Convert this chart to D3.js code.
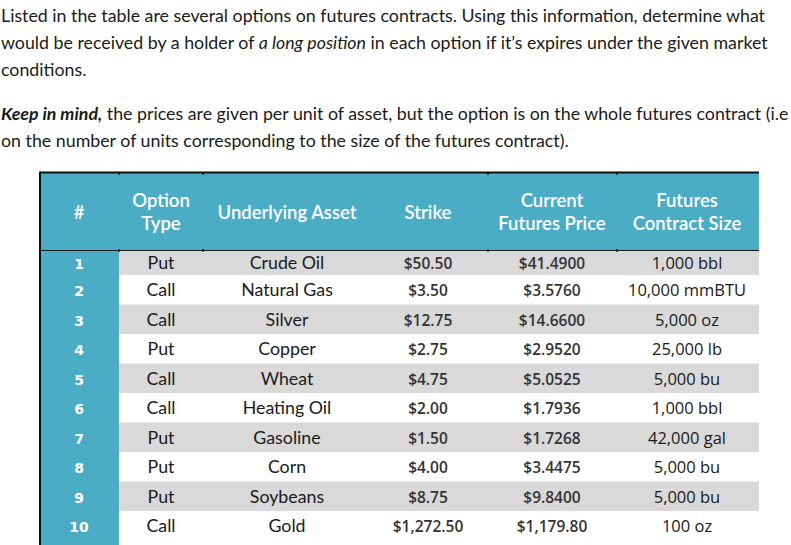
<!DOCTYPE html>
<html>
<head>
<meta charset="utf-8">
<script src="https://cdn.jsdelivr.net/npm/d3@7"></script>
<style>
  body { margin: 0; background: #fff; }
  svg { display: block; }
</style>
</head>
<body>
<div id="chart"></div>
<script>
// text above the table
var introLines = [
  [{t: "Listed in the table are several options on futures contracts. Using this information, determine what"}],
  [{t: "would be received by a holder of "}, {t: "a long position", i: true}, {t: " in each option if it\u2019s expires under the given market"}],
  [{t: "conditions."}]
];
var noteLines = [
  [{t: "Keep in mind,", b: true, i: true}, {t: " the prices are given per unit of asset, but the option is on the whole futures contract (i.e"}],
  [{t: "on the number of units corresponding to the size of the futures contract)."}]
];

// table data
var headers = [["#"], ["Option", "Type"], ["Underlying Asset"], ["Strike"], ["Current", "Futures Price"], ["Futures", "Contract Size"]];
var rowNumbers = ["1", "2", "3", "4", "5", "6", "7", "8", "9", "10"];
var optionTypes = ["Put", "Call", "Call", "Put", "Call", "Call", "Put", "Put", "Put", "Call"];
var assets = ["Crude Oil", "Natural Gas", "Silver", "Copper", "Wheat", "Heating Oil", "Gasoline", "Corn", "Soybeans", "Gold"];
var strikes = ["$50.50", "$3.50", "$12.75", "$2.75", "$4.75", "$2.00", "$1.50", "$4.00", "$8.75", "$1,272.50"];
var futuresPrices = ["$41.4900", "$3.5760", "$14.6600", "$2.9520", "$5.0525", "$1.7936", "$1.7268", "$3.4475", "$9.8400", "$1,179.80"];
var contractSizes = ["1,000 bbl", "10,000 mmBTU", "5,000 oz", "25,000 lb", "5,000 bu", "1,000 bbl", "42,000 gal", "5,000 bu", "5,000 bu", "100 oz"];

var width = 791, height = 545;
var teal = "#4bacc6", gray = "#d9d9d9";
var textFont = "Lato, 'Open Sans', sans-serif";

var svg = d3.select("#chart").append("svg")
  .attr("width", width)
  .attr("height", height);

// paragraphs
function drawLines(lines, y0) {
  lines.forEach(function(parts, i) {
    var t = svg.append("text")
      .attr("x", 1)
      .attr("y", y0 + i * 27)
      .attr("font-family", textFont)
      .attr("font-size", 17.8)
      .attr("fill", "#1a1a1a");
    parts.forEach(function(p) {
      t.append("tspan")
        .attr("font-style", p.i ? "italic" : "normal")
        .attr("font-weight", p.b ? "bold" : "normal")
        .text(p.t);
    });
  });
}
drawLines(introLines, 22);
drawLines(noteLines, 120);

// table layout
var tableLeft = 41, tableRight = 759, tableTop = 173, headerBottom = 250;
var colEdges = [tableLeft, 119, 203, 360, 488, 617, tableRight];
var colCenters = [79, 161, 287, 428, 552, 687];

var rowScale = d3.scaleBand()
  .domain(rowNumbers)
  .range([245.5, 245.5 + 29.5 * rowNumbers.length]);

// body rows
var rows = svg.append("g");
rows.selectAll("rect.stripe")
  .data(rowNumbers.filter(function(d, i) { return i % 2 === 0; }))
  .join("rect")
  .attr("class", "stripe")
  .attr("x", colEdges[1])
  .attr("y", function(d) { return Math.max(rowScale(d), headerBottom); })
  .attr("width", tableRight - colEdges[1])
  .attr("height", function(d) { return rowScale(d) + rowScale.bandwidth() - Math.max(rowScale(d), headerBottom); })
  .attr("fill", gray);

// # column
svg.append("rect")
  .attr("x", tableLeft)
  .attr("y", tableTop)
  .attr("width", colEdges[1] - tableLeft)
  .attr("height", height - tableTop)
  .attr("fill", teal);

// header
svg.append("rect")
  .attr("x", tableLeft)
  .attr("y", tableTop)
  .attr("width", tableRight - tableLeft)
  .attr("height", headerBottom - tableTop)
  .attr("fill", teal);

svg.append("line")
  .attr("x1", tableLeft).attr("x2", tableRight)
  .attr("y1", headerBottom + 0.5).attr("y2", headerBottom + 0.5)
  .attr("stroke", "#1a1a1a").attr("stroke-width", 1);

headers.forEach(function(h, c) {
  var mid = (tableTop + headerBottom) / 2 + 7;
  h.forEach(function(line, k) {
    svg.append("text")
      .attr("x", colCenters[c])
      .attr("y", mid + (k - (h.length - 1) / 2) * 23)
      .attr("text-anchor", "middle")
      .attr("font-family", textFont)
      .attr("font-weight", 600)
      .attr("font-size", 18.5)
      .attr("fill", "#fff")
      .text(line);
  });
});

// column divider ticks at header edges
colEdges.slice(1, 6).forEach(function(x) {
  if (x === 360) return;
  [tableTop, headerBottom].forEach(function(y) {
    svg.append("line")
      .attr("x1", x).attr("x2", x)
      .attr("y1", y - 1).attr("y2", y + 2)
      .attr("stroke", "#222").attr("stroke-width", 1.5);
  });
});

// borders
svg.append("line")
  .attr("x1", tableLeft - 1).attr("x2", tableRight)
  .attr("y1", tableTop - 0.5).attr("y2", tableTop - 0.5)
  .attr("stroke", "#111").attr("stroke-width", 2);
svg.append("line")
  .attr("x1", tableLeft - 1).attr("x2", tableLeft - 1)
  .attr("y1", tableTop - 1.5).attr("y2", height)
  .attr("stroke", "#111").attr("stroke-width", 2);

// cell text
function textY(d) {
  var top = rowScale(d), bottom = top + rowScale.bandwidth();
  top = Math.max(top, headerBottom);
  return (top + bottom) / 2 + 6.5;
}

var columns = [
  {values: rowNumbers, font: "'DejaVu Sans', sans-serif", weight: "bold", size: 14, fill: "#fff"},
  {values: optionTypes, font: textFont, weight: "normal", size: 17.8, fill: "#1a1a1a"},
  {values: assets, font: textFont, weight: "normal", size: 17.8, fill: "#1a1a1a"},
  {values: strikes, font: "'Open Sans', sans-serif", weight: 600, size: 15.5, fill: "#333"},
  {values: futuresPrices, font: "'Open Sans', sans-serif", weight: 600, size: 15.5, fill: "#333"},
  {values: contractSizes, font: "'Open Sans', sans-serif", weight: "normal", size: 16.5, fill: "#1a1a1a"}
];

columns.forEach(function(col, c) {
  svg.append("g").selectAll("text")
    .data(col.values)
    .join("text")
    .attr("x", colCenters[c])
    .attr("y", function(d, i) { return textY(rowNumbers[i]); })
    .attr("text-anchor", "middle")
    .attr("font-family", col.font)
    .attr("font-weight", col.weight)
    .attr("font-size", col.size)
    .attr("fill", col.fill)
    .text(function(d) { return d; });
});
</script>
</body>
</html>
